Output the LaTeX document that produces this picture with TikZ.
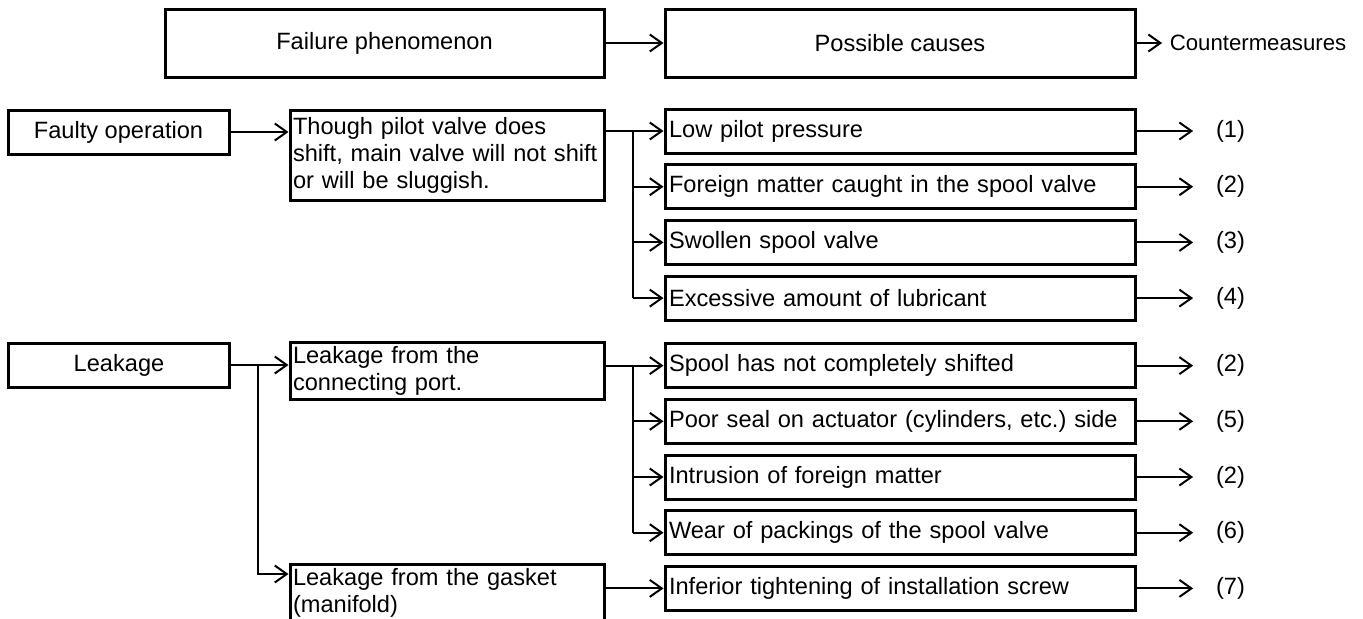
\documentclass[tikz,border=0pt]{standalone}
\usepackage{fontspec}
\setmainfont{Liberation Sans}
\usetikzlibrary{arrows.meta,positioning}
\frenchspacing

\begin{document}
\begin{tikzpicture}[x=0.5pt,y=-0.5pt,>={Straight Barb[length=6pt,width=8.5pt]},
                    line width=1pt,node distance=4.35pt,
                    font=\fontsize{11.8}{13.5}\selectfont,
                    box/.style={draw,line width=1.5pt,inner xsep=2pt,inner ysep=0pt},
                    head box/.style={box,minimum width=219.5pt,minimum height=34pt},
                    main box/.style={box,minimum width=110.5pt,minimum height=22pt},
                    phen box/.style={box,inner xsep=1.5pt,text width=154pt,align=left},
                    cause box/.style={box,text width=231pt,align=left,minimum height=22pt},
                    measure/.style={inner sep=0pt}]

      \useasboundingbox (0,0) rectangle (1363,618);

      % header
      \node[head box] (fail) at (384.5,43) {Failure phenomenon};
      \node[head box,minimum width=235pt] (poss) [right=29pt of fail] {Possible causes};
      \node[font=\fontsize{11.1}{13.5}\selectfont] (cm) [right=12.8pt of poss] {Countermeasures};

      % faulty operation
      \node[main box] (faulty) at (118.5,132) {Faulty operation};
      \node[phen box,minimum height=45pt] (pilot) at (447,155) {Though pilot valve does\\shift, main valve will not shift\\or will be sluggish.};
      \node[cause box] (c1) at (900,131) {Low pilot pressure};
      \node[cause box] (c2) [below=of c1] {Foreign matter caught in the spool valve};
      \node[cause box] (c3) [below=of c2] {Swollen spool valve};
      \node[cause box] (c4) [below=of c3] {Excessive amount of lubricant};

      % leakage
      \node[main box] (leak) at (119,365) {Leakage};
      \node[phen box,minimum height=28.5pt] (port) at (447,370.5) {Leakage from the\\connecting port.};
      \node[phen box,minimum height=28.5pt] (gasket) at (447,592.5) {Leakage from the gasket\\(manifold)};
      \node[cause box] (c5) [below=10.25pt of c4] {Spool has not completely shifted};
      \node[cause box] (c6) [below=of c5] {Poor seal on actuator (cylinders, etc.) side};
      \node[cause box] (c7) [below=of c6] {Intrusion of foreign matter};
      \node[cause box] (c8) [below=of c7] {Wear of packings of the spool valve};
      \node[cause box] (c9) [below=of c8] {Inferior tightening of installation screw};

      \foreach \c/\m in {c1/1,c2/2,c3/3,c4/4,c5/2,c6/5,c7/2,c8/6,c9/7}
        \node[measure] (m\c) [right=39.3pt of \c] {(\m)};

      \coordinate (j1) at (633,0);
      \coordinate (j2) at (258,0);

      \draw[->] (fail) -- (poss);
      \draw[->] (poss) -- (cm);

      \draw[->] (faulty) -- (faulty -| pilot.west);
      \draw (pilot.east |- c1) -- (j1 |- c1) -- (j1 |- c4);
      \foreach \c in {c1,c2,c3,c4}
        \draw[->] (j1 |- \c) -- (\c);

      \draw[->] (leak) -- (leak -| port.west);
      \draw[->] (j2 |- leak) |- ([yshift=9.25pt]gasket.west);
      \draw (port.east |- c5) -- (j1 |- c5) -- (j1 |- c8);
      \foreach \c in {c5,c6,c7,c8}
        \draw[->] (j1 |- \c) -- (\c);
      \draw[->] (gasket.east |- c9) -- (c9);

      \foreach \c in {c1,c2,c3,c4,c5,c6,c7,c8,c9}
        \draw[->,shorten >=11pt] (\c) -- (m\c);
    \end{tikzpicture}
\end{document}
